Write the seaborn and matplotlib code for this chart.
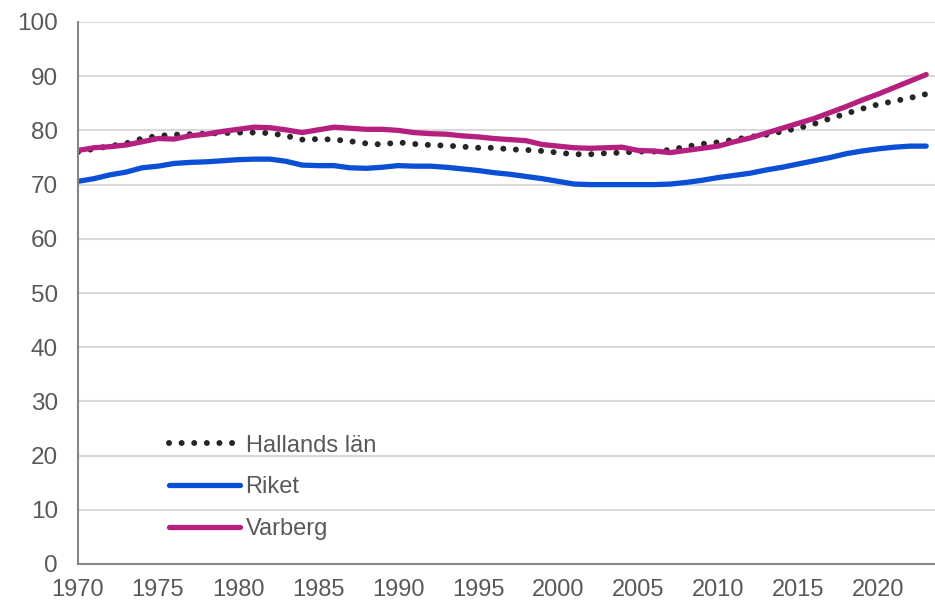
import numpy as np
import pandas as pd
import matplotlib
matplotlib.use("Agg")
import matplotlib.pyplot as plt
import seaborn as sns

years = list(range(1970, 2024))

hallands = [76.0, 76.6, 77.1, 77.6, 78.5, 79.0, 79.2, 79.3, 79.4, 79.5,
            79.6, 79.6, 79.5, 79.0, 78.3, 78.4, 78.3, 78.0, 77.6, 77.4,
            77.8, 77.5, 77.3, 77.2, 77.0, 76.8, 76.8, 76.5, 76.4, 76.2,
            75.9, 75.6, 75.6, 75.8, 75.9, 76.1, 76.1, 76.4, 77.0, 77.5,
            77.8, 78.3, 78.8, 79.2, 79.8, 80.4, 81.2, 82.2, 83.1, 84.0,
            84.8, 85.4, 86.0, 86.7]

riket = [70.6, 71.1, 71.8, 72.3, 73.1, 73.4, 73.9, 74.1, 74.2, 74.4,
         74.6, 74.7, 74.7, 74.3, 73.6, 73.5, 73.5, 73.1, 73.0, 73.2,
         73.5, 73.4, 73.4, 73.2, 72.9, 72.6, 72.2, 71.9, 71.5, 71.1,
         70.6, 70.1, 70.0, 70.0, 70.0, 70.0, 70.0, 70.1, 70.4, 70.8,
         71.3, 71.7, 72.1, 72.7, 73.2, 73.8, 74.4, 75.0, 75.7, 76.2,
         76.6, 76.9, 77.1, 77.1]

varberg = [76.3, 76.8, 77.0, 77.3, 77.9, 78.5, 78.4, 79.0, 79.3, 79.8,
           80.2, 80.6, 80.5, 80.1, 79.6, 80.1, 80.6, 80.4, 80.2, 80.2,
           80.0, 79.6, 79.4, 79.3, 79.0, 78.8, 78.5, 78.3, 78.1, 77.4,
           77.1, 76.8, 76.7, 76.8, 76.9, 76.3, 76.2, 75.9, 76.3, 76.7,
           77.1, 77.9, 78.6, 79.5, 80.4, 81.3, 82.2, 83.3, 84.4, 85.6,
           86.7, 87.9, 89.1, 90.3]

series_names = ["Hallands län", "Riket", "Varberg"]
yticks = list(range(0, 101, 10))
xticks = list(range(1970, 2021, 5))

df = pd.DataFrame({"year": years, "Hallands län": hallands,
                   "Riket": riket, "Varberg": varberg})

sns.set_style("white")
plt.rcParams["font.family"] = ["Liberation Sans", "DejaVu Sans"]

grey_txt = "#595959"
fig = plt.figure(figsize=(9.35, 6.02), dpi=100)
ax = fig.add_axes([78 / 935, 1 - 564 / 602, 1 - 78 / 935, (564 - 22) / 602])

# serie-stilar
styles = {
    "Hallands län": dict(color="#262626", lw=4.3, dashes=(0.01, 2.1)),
    "Riket": dict(color="#0a4fd6", lw=3.8),
    "Varberg": dict(color="#b5207f", lw=3.8),
}

for name in series_names:
    st = styles[name]
    sns.lineplot(data=df, x="year", y=name, ax=ax, color=st["color"],
                 linewidth=st["lw"], label=name)
    l = ax.get_lines()[-1]
    l.set_solid_capstyle("round")
    if "dashes" in st:
        l.set_dashes(st["dashes"])
        l.set_dash_capstyle("round")

ax.set_xlim(1970, 2023.55)
ax.set_ylim(0, 100)
ax.set_xticks(xticks)
ax.set_yticks(yticks)
ax.set_xlabel("")
ax.set_ylabel("")

for y in yticks[1:]:
    ax.axhline(y, color="#d9d9d9", lw=1.5, zorder=0)

for s in ["top", "right"]:
    ax.spines[s].set_visible(False)
for s in ["left", "bottom"]:
    ax.spines[s].set_color("#868686")
    ax.spines[s].set_linewidth(1.5)

ax.tick_params(axis="both", direction="out", length=6.5, width=1.5,
               color="#868686", labelcolor=grey_txt, labelsize=17.5)
ax.tick_params(axis="y", pad=8)
ax.tick_params(axis="x", pad=4, labelsize=17)

leg = ax.legend(loc="lower left", bbox_to_anchor=(0.095, 0.027), frameon=False,
                fontsize=17, handlelength=3.0, handletextpad=0.25,
                labelspacing=0.83, borderaxespad=0)
for t in leg.get_texts():
    t.set_color(grey_txt)

fig.savefig("out.png", dpi=100)
